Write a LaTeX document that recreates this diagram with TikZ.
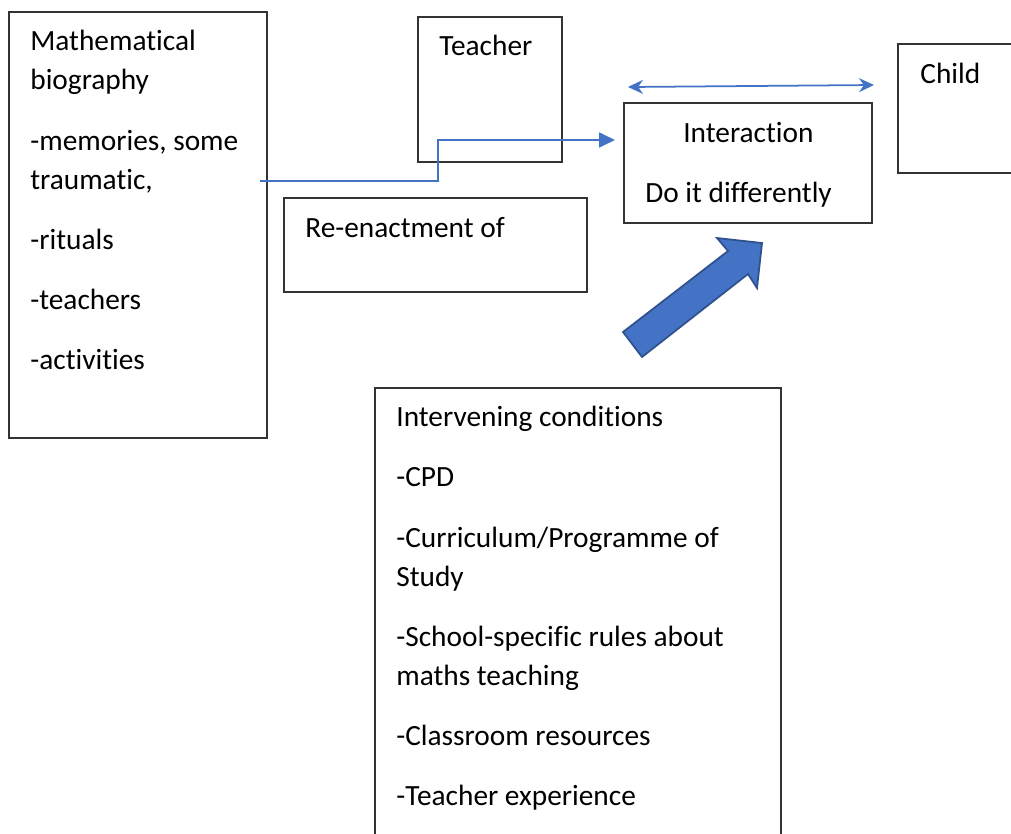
\documentclass[tikz,border=0pt]{standalone}
\usepackage{fontspec}
\setmainfont[Ligatures=NoCommon]{Carlito}
\usepackage{tikz}
\usetikzlibrary{arrows.meta,positioning,fit}
\definecolor{wordblue}{HTML}{4472C4}
\definecolor{wordedge}{HTML}{2F528F}

\begin{document}
\begin{tikzpicture}[x=0.02cm,y=-0.02cm,
		box/.style={draw=black!80,line width=0.7pt,inner sep=0pt},
		txt/.style={inner sep=0pt,anchor=north west,align=left,font=\fontsize{16.7}{22.3}\selectfont},
		link/.style={draw=wordblue,line width=1pt},
		>={Triangle[length=0.32cm,width=0.3cm]}]
		
		\useasboundingbox (0,0) rectangle (1011,833);
		\clip (0,0) rectangle (1011,833);
		
		% boxes
		\node[box,fit={(9,12) (267,438)}]   (bio)     {};
		\node[box,fit={(418,17) (562,162)}] (teacher) {};
		\node[box,fit={(898,44) (1040,173)}] (child)  {};
		\node[box,fit={(624,103) (872,223)}] (inter)  {};
		\node[box,fit={(284,198) (587,292)}] (reenact) {};
		\node[box,fit={(375,388) (781,880)}] (conds)  {};
		
		% texts
		\node[txt] (biotxt) at (30,30) {Mathematical\\biography\\[0.42cm]-memories, some\\traumatic,\\[0.42cm]-rituals\\[0.42cm]-teachers\\[0.42cm]-activities};
		\node[txt] (teachertxt) at (439,35) {Teacher};
		\node[txt] (childtxt) at (920,63) {Child};
		\node[txt] (intertxt) at (645,122) {\hspace{0.76cm}Interaction\\[0.42cm]Do it differently};
		\node[txt] (reenacttxt) at (305,217) {Re-enactment of};
		\node[txt] (condstxt) at (396,406) {Intervening conditions\\[0.42cm]-CPD\\[0.42cm]-Curriculum/Programme of\\Study\\[0.42cm]-School-specific rules about\\maths teaching\\[0.42cm]-Classroom resources\\[0.42cm]-Teacher experience};
		
		% connectors
		\coordinate (biofrom) at (260,181);
		\coordinate (interin) at (615,140);
		\coordinate (tchild) at (628,87);
		\coordinate (fchild) at (874,85);
		\draw[link,->] (biofrom) -| (438,140) -- (interin);
		\draw[link,{Stealth[length=0.3cm,width=0.28cm]}-{Stealth[length=0.3cm,width=0.28cm]}] (tchild) -- (fchild);
		
		% block arrow from the conditions up to the interaction
		\draw[fill=wordblue,draw=wordedge,line width=1pt,line join=miter]
			(623,332) -- (728,251) -- (717,238) -- (762,243) -- (757,288) -- (748,274) -- (642,357) -- cycle;
	\end{tikzpicture}
\end{document}
